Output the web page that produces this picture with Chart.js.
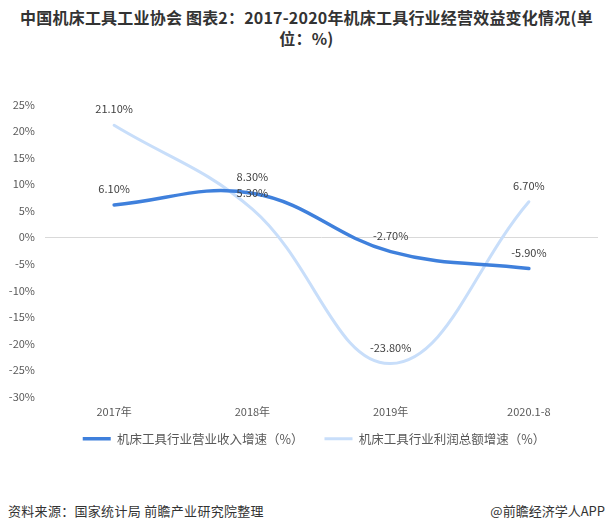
<!DOCTYPE html>
<html lang="zh">
<head>
<meta charset="UTF-8">
<title>机床工具行业经营效益变化情况</title>
<script src="https://cdn.jsdelivr.net/npm/chart.js"></script>
<style>
  body {margin:0;background:#fff;font-family:"Noto Sans CJK SC",sans-serif;}
  .wrap {position:relative;width:613px;height:531px;overflow:hidden;}
  .title {position:absolute;top:7px;left:0;width:613px;text-align:center;font-weight:bold;font-size:16px;line-height:21px;color:#333;letter-spacing:0.2px;}
  .chart-box {position:absolute;top:88px;left:0;width:613px;height:376px;}
  .src {position:absolute;top:501px;left:8px;font-size:13px;color:#333;letter-spacing:0.3px;}
  .app {position:absolute;top:501px;right:8px;font-size:13px;color:#333;}
</style>
</head>
<body>
<div class="wrap">
  <div class="title">中国机床工具工业协会 图表2：2017-2020年机床工具行业经营效益变化情况(单<br>位：%)</div>
  <div class="chart-box"><canvas id="lineChart"></canvas></div>
  <div class="src">资料来源：国家统计局 前瞻产业研究院整理</div>
  <div class="app">@前瞻经济学人APP</div>
</div>
<script>
const years = ['2017年', '2018年', '2019年', '2020.1-8'];
const revenueGrowth = [6.1, 8.3, -2.7, -5.9];   // 营业收入增速
const profitGrowth = [21.1, 5.3, -23.8, 6.7];   // 利润总额增速
const yTicks = [25, 20, 15, 10, 5, 0, -5, -10, -15, -20, -25, -30];

const fontFam = '"Noto Sans CJK SC", sans-serif';
const legendPad = 21;

// 数据标签：画在点的上方；图例上移贴近x轴
const pointLabels = {
  id: 'pointLabels',
  afterLayout(chart){
    const lg = chart.legend;
    const h = lg.bottom - lg.top;
    lg.top = chart.chartArea.bottom + 42 - legendPad - 6;
    lg.bottom = lg.top + h;
    lg.left += 15;
    lg.right += 15;
  },
  afterDatasetsDraw(chart){
    const ctx = chart.ctx;
    ctx.save();
    ctx.font = '11px ' + fontFam;
    ctx.fillStyle = '#404040';
    ctx.textAlign = 'center';
    ctx.textBaseline = 'middle';
    chart.data.datasets.forEach((ds, i) => {
      chart.getDatasetMeta(i).data.forEach((pt, j) => {
        ctx.fillText(ds.data[j].toFixed(2) + '%', pt.x, pt.y - 16);
      });
    });
    ctx.restore();
  }
};

new Chart(document.getElementById('lineChart'), {
  type: 'line',
  data: {
    labels: years,
    datasets: [
      {label: '机床工具行业营业收入增速（%）', data: revenueGrowth, borderColor: '#3f80dc', backgroundColor: '#3f80dc',
       borderWidth: 3.5, pointRadius: 0, tension: 0.4, borderCapStyle: 'round'},
      {label: '机床工具行业利润总额增速（%）', data: profitGrowth, borderColor: '#c8defa', backgroundColor: '#c8defa',
       borderWidth: 3, pointRadius: 0, tension: 0.4, borderCapStyle: 'round'}
    ]
  },
  options: {
    responsive: true,
    maintainAspectRatio: false,
    animation: false,
    layout: {padding: {top: 15, right: 15, left: 0, bottom: 0}},
    plugins: {
      legend: {
        position: 'bottom',
        labels: {usePointStyle: true, pointStyle: 'line', pointStyleWidth: 28, padding: legendPad,
                 color: '#595959', font: {size: 12.5, family: fontFam}}
      },
      tooltip: {enabled: false}
    },
    scales: {
      x: {
        offset: true,
        afterFit(s){ s.height = 24; },
        grid: {display: false},
        border: {display: false},
        ticks: {color: '#595959', font: {size: 11, family: fontFam}, padding: 1}
      },
      y: {
        min: -30, max: 25,
        afterFit(s){ s.width = 45; },
        afterBuildTicks(s){ s.ticks = yTicks.map(v => ({value: v})); },
        border: {display: false},
        grid: {color: c => c.tick.value === 0 ? '#d9d9d9' : 'transparent', drawTicks: false},
        ticks: {color: '#595959', font: {size: 11, family: fontFam}, padding: 10, callback: v => v + '%'}
      }
    }
  },
  plugins: [pointLabels]
});
</script>
</body>
</html>
